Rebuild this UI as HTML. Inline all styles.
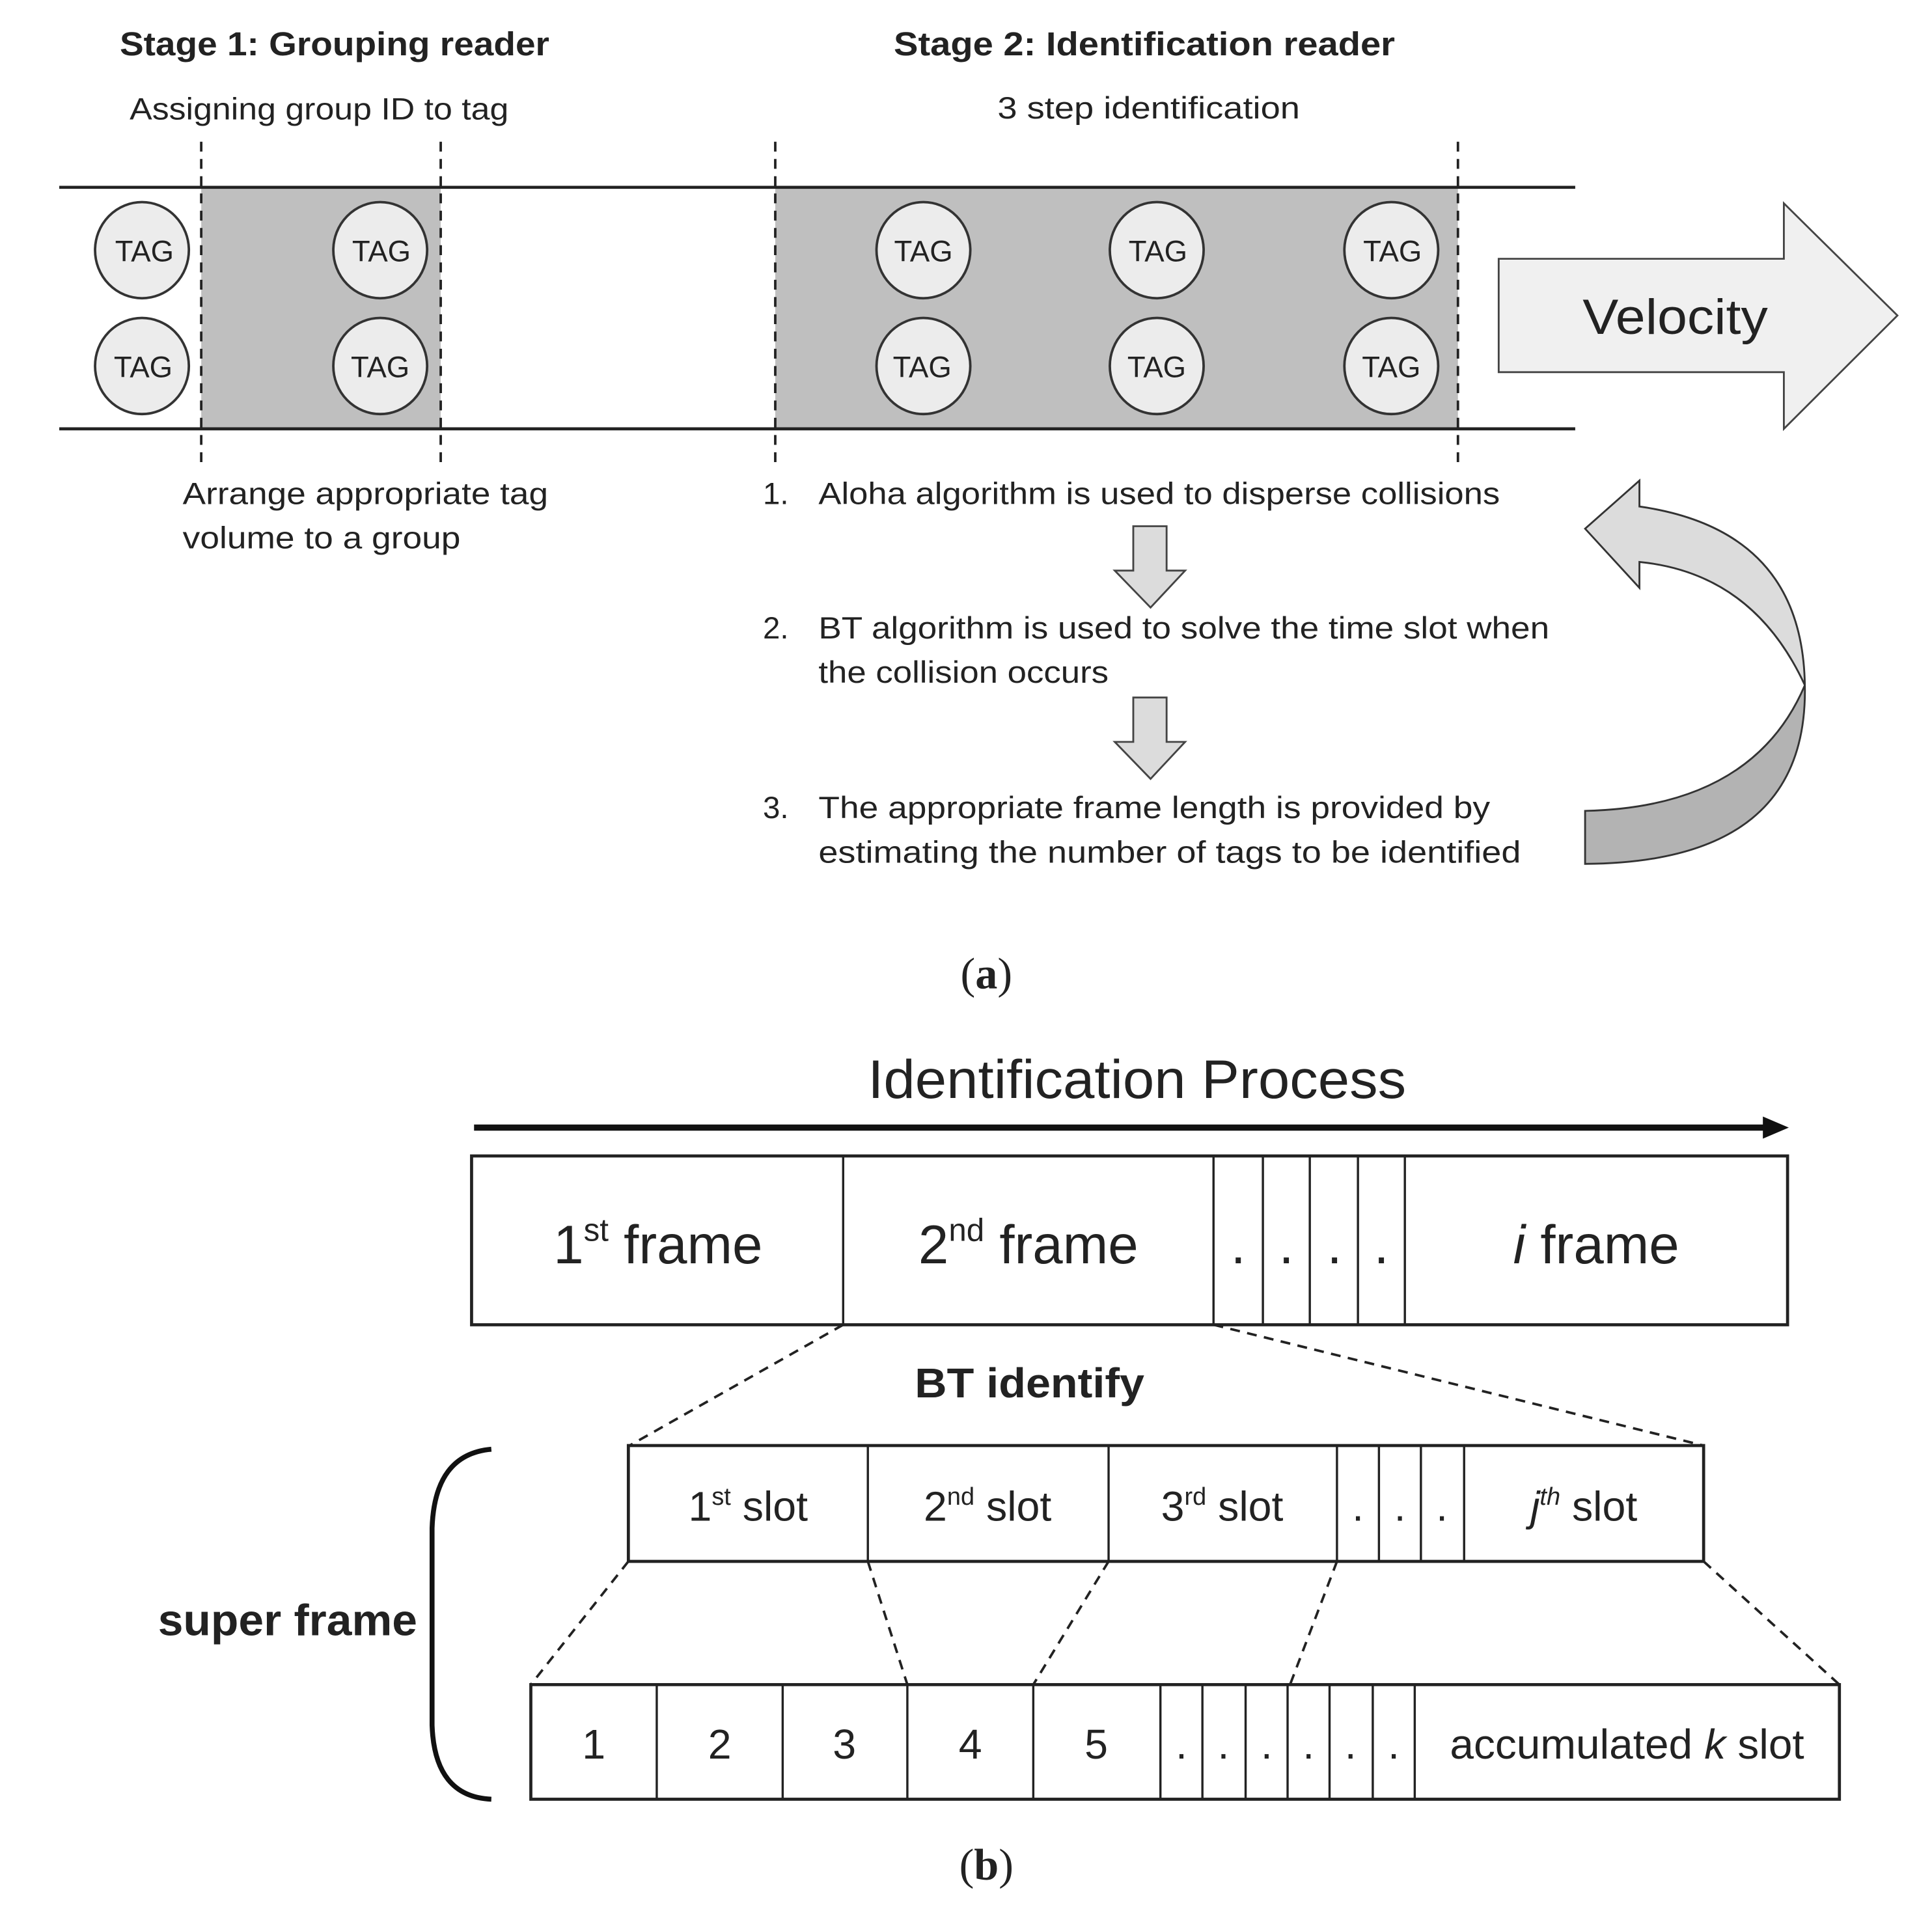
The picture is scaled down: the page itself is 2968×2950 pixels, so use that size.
<!DOCTYPE html>
<html><head><meta charset="utf-8"><style>html,body{margin:0;padding:0;background:#fff}svg{display:block}</style></head>
<body>
<svg width="2968" height="2950" viewBox="0 0 1565 1558" preserveAspectRatio="none" xmlns="http://www.w3.org/2000/svg" font-family="Liberation Sans, sans-serif" fill="#222">
<rect width="1570" height="1560" fill="#fff"/>
<!-- (a) -->
<text x="97" y="45" font-size="27" font-weight="bold" textLength="348" lengthAdjust="spacingAndGlyphs">Stage 1: Grouping reader</text>
<text x="724" y="45" font-size="27" font-weight="bold" textLength="406" lengthAdjust="spacingAndGlyphs">Stage 2: Identification reader</text>
<text x="105" y="97" font-size="25" textLength="307" lengthAdjust="spacingAndGlyphs">Assigning group ID to tag</text>
<text x="808" y="96" font-size="25" textLength="245" lengthAdjust="spacingAndGlyphs">3 step identification</text>
<rect x="163" y="152" width="194" height="196" fill="#bfbfbf"/>
<rect x="628" y="152" width="553" height="196" fill="#bfbfbf"/>
<line x1="48" y1="152" x2="1276" y2="152" stroke="#222" stroke-width="2.5"/>
<line x1="48" y1="348" x2="1276" y2="348" stroke="#222" stroke-width="2.5"/>
<g stroke="#222" stroke-width="2" stroke-dasharray="8,6">
<line x1="163" y1="115" x2="163" y2="378"/><line x1="357" y1="115" x2="357" y2="378"/>
<line x1="628" y1="115" x2="628" y2="378"/><line x1="1181" y1="115" x2="1181" y2="378"/>
</g>
<g stroke="#333" stroke-width="2" fill="#ececec">
<ellipse cx="115" cy="203" rx="38" ry="39"/><ellipse cx="115" cy="297" rx="38" ry="39"/>
<ellipse cx="308" cy="203" rx="38" ry="39"/><ellipse cx="308" cy="297" rx="38" ry="39"/>
<ellipse cx="748" cy="203" rx="38" ry="39"/><ellipse cx="748" cy="297" rx="38" ry="39"/>
<ellipse cx="937" cy="203" rx="38" ry="39"/><ellipse cx="937" cy="297" rx="38" ry="39"/>
<ellipse cx="1127" cy="203" rx="38" ry="39"/><ellipse cx="1127" cy="297" rx="38" ry="39"/>
</g>
<g font-size="24" text-anchor="middle">
<text x="117" y="212">TAG</text><text x="116" y="306">TAG</text>
<text x="309" y="212">TAG</text><text x="308" y="306">TAG</text>
<text x="748" y="212">TAG</text><text x="747" y="306">TAG</text>
<text x="938" y="212">TAG</text><text x="937" y="306">TAG</text>
<text x="1128" y="212">TAG</text><text x="1127" y="306">TAG</text>
</g>
<polygon points="1214,210 1445,210 1445,165 1537,256 1445,348 1445,302 1214,302" fill="#f0f0f0" stroke="#444" stroke-width="1.5"/>
<text x="1357" y="271" font-size="40" text-anchor="middle" textLength="150" lengthAdjust="spacingAndGlyphs">Velocity</text>
<g font-size="25">
<text x="148" y="409" textLength="296" lengthAdjust="spacingAndGlyphs">Arrange appropriate tag</text>
<text x="148" y="445" textLength="225" lengthAdjust="spacingAndGlyphs">volume to a group</text>
<text x="618" y="409">1.</text>
<text x="663" y="409" textLength="552" lengthAdjust="spacingAndGlyphs">Aloha algorithm is used to disperse collisions</text>
<text x="618" y="518">2.</text>
<text x="663" y="518" textLength="592" lengthAdjust="spacingAndGlyphs">BT algorithm is used to solve the time slot when</text>
<text x="663" y="554" textLength="235" lengthAdjust="spacingAndGlyphs">the collision occurs</text>
<text x="618" y="664">3.</text>
<text x="663" y="664" textLength="544" lengthAdjust="spacingAndGlyphs">The appropriate frame length is provided by</text>
<text x="663" y="700" textLength="569" lengthAdjust="spacingAndGlyphs">estimating the number of tags to be identified</text>
</g>
<g fill="#dcdcdc" stroke="#444" stroke-width="1.5">
<polygon points="918,427 945,427 945,463 960,463 932,493 903,463 918,463"/>
<polygon points="918,566 945,566 945,602 960,602 932,632 903,602 918,602"/>
</g>
<path d="M1284,429 L1328,390 L1328,411 Q1460,430 1462,556 Q1420,465 1328,456 L1328,477 Z" fill="#dcdcdc" stroke="#333" stroke-width="1.5"/>
<path d="M1462,556 Q1465,700 1284,701 L1284,658 Q1420,655 1462,556 Z" fill="#b3b3b3" stroke="#333" stroke-width="1.5"/>
<text x="799" y="802" font-family="Liberation Serif, serif" font-size="36" text-anchor="middle"><tspan>(</tspan><tspan font-weight="bold">a</tspan><tspan>)</tspan></text>
<!-- (b) -->
<text x="921" y="891" font-size="44" text-anchor="middle" textLength="436" lengthAdjust="spacingAndGlyphs">Identification Process</text>
<line x1="384" y1="915" x2="1432" y2="915" stroke="#111" stroke-width="5"/>
<polygon points="1428,906 1449,915 1428,924" fill="#111"/>
<rect x="382" y="938" width="1066" height="137" fill="none" stroke="#222" stroke-width="2.5"/>
<g stroke="#222" stroke-width="1.8">
<line x1="683" y1="938" x2="683" y2="1075"/><line x1="983" y1="938" x2="983" y2="1075"/>
<line x1="1023" y1="938" x2="1023" y2="1075"/><line x1="1061" y1="938" x2="1061" y2="1075"/>
<line x1="1100" y1="938" x2="1100" y2="1075"/><line x1="1138" y1="938" x2="1138" y2="1075"/>
</g>
<g font-size="44" text-anchor="middle">
<text x="533" y="1025">1<tspan font-size="26" dy="-18">st</tspan><tspan dy="18"> frame</tspan></text>
<text x="833" y="1025">2<tspan font-size="26" dy="-18">nd</tspan><tspan dy="18"> frame</tspan></text>
<text x="1003" y="1025">.</text><text x="1042" y="1025">.</text><text x="1081" y="1025">.</text><text x="1119" y="1025">.</text>
<text x="1293" y="1025"><tspan font-style="italic">i</tspan> frame</text>
</g>
<g stroke="#222" stroke-width="2" stroke-dasharray="8,6">
<line x1="683" y1="1075" x2="510" y2="1173"/><line x1="983" y1="1075" x2="1380" y2="1173"/>
<line x1="509" y1="1267" x2="430" y2="1367"/><line x1="703" y1="1267" x2="735" y2="1367"/>
<line x1="898" y1="1267" x2="837" y2="1367"/><line x1="1083" y1="1267" x2="1045" y2="1367"/>
<line x1="1380" y1="1267" x2="1490" y2="1367"/>
</g>
<text x="834" y="1134" font-size="34" font-weight="bold" text-anchor="middle" textLength="186" lengthAdjust="spacingAndGlyphs">BT identify</text>
<rect x="509" y="1173" width="871" height="94" fill="none" stroke="#222" stroke-width="2.5"/>
<g stroke="#222" stroke-width="1.8">
<line x1="703" y1="1173" x2="703" y2="1267"/><line x1="898" y1="1173" x2="898" y2="1267"/>
<line x1="1083" y1="1173" x2="1083" y2="1267"/><line x1="1117" y1="1173" x2="1117" y2="1267"/>
<line x1="1151" y1="1173" x2="1151" y2="1267"/><line x1="1186" y1="1173" x2="1186" y2="1267"/>
</g>
<g font-size="34" text-anchor="middle">
<text x="606" y="1234">1<tspan font-size="20" dy="-13">st</tspan><tspan dy="13"> slot</tspan></text>
<text x="800" y="1234">2<tspan font-size="20" dy="-13">nd</tspan><tspan dy="13"> slot</tspan></text>
<text x="990" y="1234">3<tspan font-size="20" dy="-13">rd</tspan><tspan dy="13"> slot</tspan></text>
<text x="1100" y="1234">.</text><text x="1134" y="1234">.</text><text x="1168" y="1234">.</text>
<text x="1283" y="1234"><tspan font-style="italic">j</tspan><tspan font-size="20" font-style="italic" dy="-13">th</tspan><tspan dy="13"> slot</tspan></text>
</g>
<rect x="430" y="1367" width="1060" height="93" fill="none" stroke="#222" stroke-width="2.5"/>
<g stroke="#222" stroke-width="1.8">
<line x1="532" y1="1367" x2="532" y2="1460"/><line x1="634" y1="1367" x2="634" y2="1460"/>
<line x1="735" y1="1367" x2="735" y2="1460"/><line x1="837" y1="1367" x2="837" y2="1460"/>
<line x1="940" y1="1367" x2="940" y2="1460"/><line x1="974" y1="1367" x2="974" y2="1460"/>
<line x1="1009" y1="1367" x2="1009" y2="1460"/><line x1="1043" y1="1367" x2="1043" y2="1460"/>
<line x1="1077" y1="1367" x2="1077" y2="1460"/><line x1="1112" y1="1367" x2="1112" y2="1460"/>
<line x1="1146" y1="1367" x2="1146" y2="1460"/>
</g>
<g font-size="34" text-anchor="middle">
<text x="481" y="1427">1</text><text x="583" y="1427">2</text><text x="684" y="1427">3</text>
<text x="786" y="1427">4</text><text x="888" y="1427">5</text>
<text x="957" y="1427">.</text><text x="991" y="1427">.</text><text x="1026" y="1427">.</text>
<text x="1060" y="1427">.</text><text x="1094" y="1427">.</text><text x="1129" y="1427">.</text>
<text x="1318" y="1427" textLength="287" lengthAdjust="spacingAndGlyphs">accumulated <tspan font-style="italic">k</tspan> slot</text>
</g>
<path d="M398,1176 Q352,1180 350,1240 L350,1400 Q352,1458 398,1460" fill="none" stroke="#111" stroke-width="4"/>
<text x="128" y="1327" font-size="36" font-weight="bold" textLength="210" lengthAdjust="spacingAndGlyphs">super frame</text>
<text x="799" y="1525" font-family="Liberation Serif, serif" font-size="36" text-anchor="middle"><tspan>(</tspan><tspan font-weight="bold">b</tspan><tspan>)</tspan></text>
</svg>
</body></html>
